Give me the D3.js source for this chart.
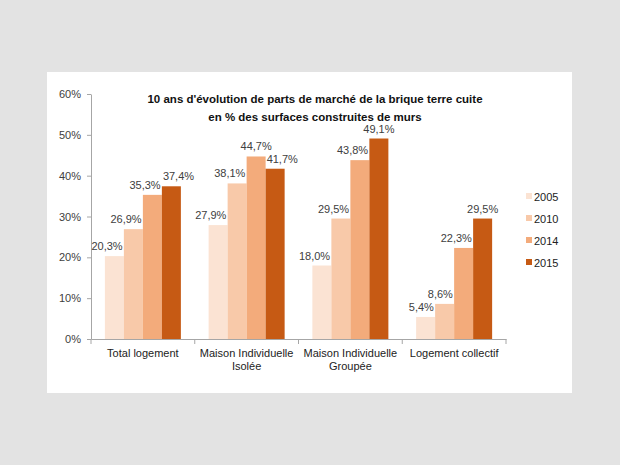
<!DOCTYPE html>
<html><head><meta charset="utf-8">
<script src="https://cdn.jsdelivr.net/npm/d3@7"></script>
<style>body{margin:0;background:#e3e3e3;}svg{display:block;}</style>
</head><body><svg id="c" width="620" height="465"></svg>
<script>
const categories = [["Total logement"], ["Maison Individuelle","Isolée"], ["Maison Individuelle","Groupée"], ["Logement collectif"]];
const seriesNames = ["2005","2010","2014","2015"];
const v2005 = [20.3, 27.9, 18.0, 5.4];
const v2010 = [26.9, 38.1, 29.5, 8.6];
const v2014 = [35.3, 44.7, 43.8, 22.3];
const v2015 = [37.4, 41.7, 49.1, 29.5];
const yTicks = [0,10,20,30,40,50,60];
const colors = ["#fbe3d3","#f8c9a9","#f3ab7b","#c65a14"];
const titleLines = ["10 ans d'évolution de parts de marché de la brique terre cuite","en % des surfaces construites de murs"];

const series = [v2005, v2010, v2014, v2015];
const svg = d3.select("#c");
const font = "'Liberation Sans Narrow', 'Liberation Sans', Arial, sans-serif";
const fontW = "'Liberation Sans', Arial, sans-serif";
svg.append("rect").attr("width",620).attr("height",465).attr("fill","#e3e3e3");
svg.append("rect").attr("x",47).attr("y",72).attr("width",525).attr("height",321).attr("fill","#ffffff");

const x0 = d3.scaleBand().domain(d3.range(categories.length)).range([91,506]).paddingInner(0).paddingOuter(0);
const x1 = d3.scaleBand().domain(d3.range(seriesNames.length)).range([0,x0.bandwidth()]).paddingInner(0).paddingOuter(0.73);
const y = d3.scaleLinear().domain([0,60]).range([339,94]);

// axes
const yAxis = svg.append("g").attr("transform","translate(91,0)")
  .call(d3.axisLeft(y).tickValues(yTicks).tickFormat(d=>d+"%").tickSize(4).tickSizeOuter(0));
yAxis.select(".domain").attr("stroke","#a6a6a6");
yAxis.selectAll(".tick line").attr("stroke","#a6a6a6");
yAxis.selectAll("text").attr("font-family",fontW).attr("font-size",11).attr("fill","#404040").attr("dx",-3);

const xAxis = svg.append("g").attr("transform","translate(0,339)")
  .call(d3.axisBottom(x0).tickValues([]).tickSizeOuter(0));
xAxis.select(".domain").attr("stroke","#a6a6a6");
const bounds = d3.range(categories.length+1).map(i => i<categories.length ? x0(i) : x0(categories.length-1)+x0.bandwidth());
svg.append("g").selectAll("line").data(bounds).join("line")
  .attr("x1",d=>d).attr("x2",d=>d).attr("y1",339).attr("y2",344).attr("stroke","#a6a6a6");

// category labels
categories.forEach((lines,i)=>{
  const t = svg.append("text").attr("x",x0(i)+x0.bandwidth()/2).attr("y",357)
    .attr("text-anchor","middle").attr("font-family",fontW).attr("font-size",11).attr("fill","#222");
  lines.forEach((l,j)=>t.append("tspan").attr("x",x0(i)+x0.bandwidth()/2).attr("dy",j?13:0).text(l));
});

// bars
const labels = categories.map(()=>[]);
series.forEach((vals,s)=>{
  const g = svg.append("g");
  g.selectAll("rect").data(vals).join("rect")
    .attr("x",(d,i)=>x0(i)+x1(s)).attr("width",x1.bandwidth())
    .attr("y",d=>y(d)).attr("height",d=>y(0)-y(d)).attr("fill",colors[s]);
  g.selectAll("text").data(vals).join("text")
    .attr("x",(d,i)=>x0(i)+x1(s)+x1.bandwidth()/2).attr("y",d=>y(d)-6)
    .attr("text-anchor","middle").attr("font-family",font).attr("font-size",11).attr("fill","#404040")
    .text(d=>d.toFixed(1).replace(".",",")+"%")
    .each(function(d,i){ labels[i][s]=this; });
});
// keep labels off taller neighbouring bars, then off each other
labels.forEach((row,i)=>{
  row.forEach((el,s)=>{
    const bb = el.getBBox();
    const bottom = bb.y+bb.height;
    if(s<row.length-1){
      const nx = x0(i)+x1(s+1), ny = y(series[s+1][i]);
      if(bottom>ny && bb.x+bb.width>nx-1) el.setAttribute("x", +el.getAttribute("x")-(bb.x+bb.width-nx+1));
    }
    if(s>0){
      const px = x0(i)+x1(s-1)+x1.bandwidth(), py = y(series[s-1][i]);
      if(bottom>py && bb.x<px+1) el.setAttribute("x", +el.getAttribute("x")+(px+1-bb.x));
    }
  });
  for(let s=0;s<row.length-1;s++){
    const a=row[s], b=row[s+1];
    const ba=a.getBBox(), bb=b.getBBox();
    const ox = ba.x+ba.width - bb.x + 2;
    const oy = Math.min(ba.y+ba.height, bb.y+bb.height) - Math.max(ba.y, bb.y);
    if(ox>0 && oy>0) b.setAttribute("x", +b.getAttribute("x")+ox);
  }
});

// title
titleLines.forEach((l,i)=>{
  svg.append("text").attr("x",315).attr("y",103+i*18).attr("text-anchor","middle")
    .attr("font-family",fontW).attr("font-weight","bold").attr("font-size",11.5).attr("fill","#111").text(l);
});

// legend
const leg = svg.append("g");
seriesNames.forEach((n,i)=>{
  const yy = 197+i*22;
  leg.append("rect").attr("x",526).attr("y",yy-4).attr("width",6).attr("height",6).attr("fill",colors[i]);
  leg.append("text").attr("x",534).attr("y",yy+4).attr("font-family",fontW).attr("font-size",11).attr("fill","#222").text(n);
});
</script></body></html>
